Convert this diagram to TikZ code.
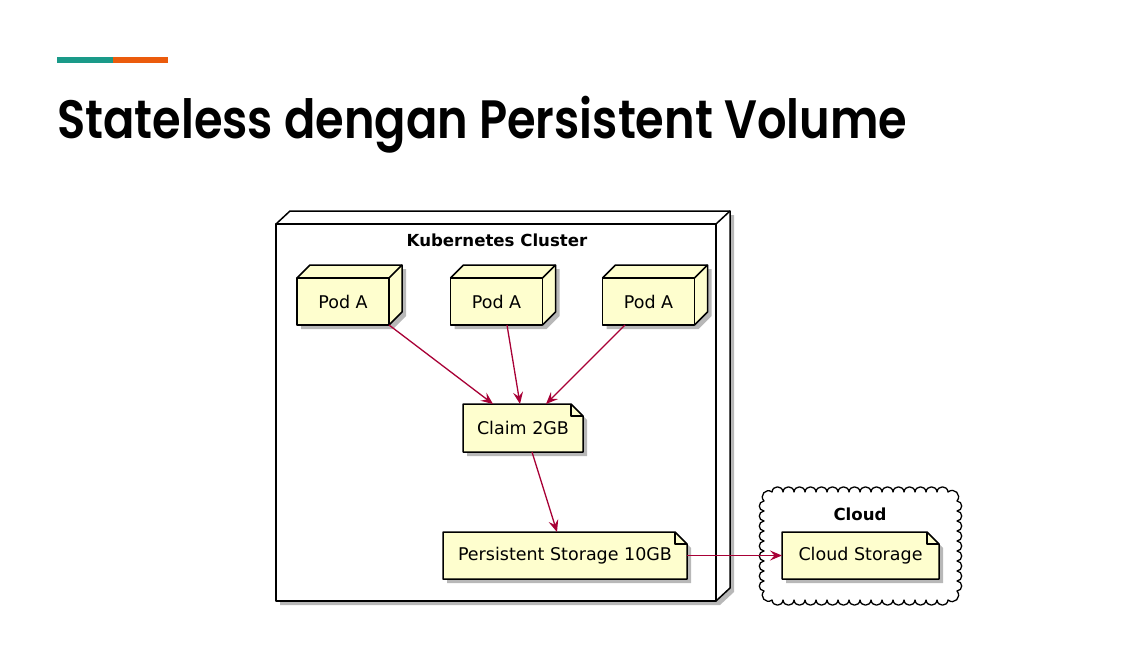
\documentclass[tikz,border=0pt]{standalone}
\usepackage{fontspec}
\newfontfamily\dejavu{DejaVu Sans}
\newfontfamily\titlefont{Poppins}[BoldFont={Poppins SemiBold}]
\usetikzlibrary{arrows.meta,calc,shadows}
\definecolor{notefill}{HTML}{FEFECE}
\definecolor{arrowred}{HTML}{A80036}
\definecolor{barteal}{HTML}{1A9A89}
\definecolor{barorange}{HTML}{EB5B0C}
\definecolor{titlecol}{HTML}{222222}
\newsavebox\titlebox
\newcommand\podat[2]{%
  \begin{scope}[shift={(#2)}]
    \fill[notefill,shadowed] (-46,23.5) -- (-46,-23.5) -- (-33,-36.5) -- (59,-36.5) -- (59,10.5) -- (46,23.5) -- cycle;
  \end{scope}
  \node[podbox] (#1) at (#2) {Pod A};
  \draw[boxline] (#1.north west) -- ++(13,-13) -- ++(92,0) -- ++(0,47) -- (#1.south east);
  \draw[boxline] (#1.north east) -- ++(13,-13);
}
\newcommand\notebox[5]{%
  \begin{scope}[shift={(#2)}]
    \filldraw[boxline,fill=notefill,shadowed] ({-#3/2},{-#4/2}) -- ({#3/2-12},{-#4/2}) -- ({#3/2},{-#4/2+12}) -- ({#3/2},{#4/2}) -- ({-#3/2},{#4/2}) -- cycle;
    \draw[boxline,line width=1.1pt] ({#3/2-12},{-#4/2}) -- ({#3/2-12},{-#4/2+12}) -- ({#3/2},{-#4/2+12});
  \end{scope}
  \node[notetext,minimum width=#3pt,minimum height=#4pt] (#1) at (#2) {#5};
}
\begin{document}
\sbox\titlebox{\titlefont\bfseries\fontsize{54}{60}\selectfont Stateless dengan Persistent Volume}%
\pgfmathsetmacro\tsx{850/\the\wd\titlebox}%
\begin{tikzpicture}[x=1pt,y=-1pt,
  boxline/.style={draw=black,line width=1.5pt,line join=round},
  shadowed/.style={drop shadow={shadow xshift=4pt,shadow yshift=-4pt,fill=black,opacity=0.28}},
  podbox/.style={boxline,fill=notefill,minimum width=92pt,minimum height=47pt,inner sep=0pt,outer sep=0pt,font=\dejavu\fontsize{17.5}{21}\selectfont},
  notetext/.style={inner sep=0pt,outer sep=0pt,font=\dejavu\fontsize{17.5}{21}\selectfont},
  boldlabel/.style={inner sep=0pt,font=\dejavu\bfseries\fontsize{16.6}{20}\selectfont},
  flow/.style={draw=arrowred,line width=1.3pt,-{Stealth[length=12pt,width=10pt,inset=4.5pt]}},
  puff/.style={bend left=85,looseness=1.6},
]
\fill[white] (0,0) rectangle (1145,645);
\useasboundingbox (0,0) rectangle (1145,645);
% header
\fill[barteal] (57,57) rectangle (113,63);
\fill[barorange] (113,57) rectangle (168,63);
\node[anchor=base west,inner sep=0pt,text=titlecol] (title) at (57,138)
  {\scalebox{\tsx}[1]{\usebox\titlebox}};
% cluster
\fill[white,shadowed] (276,224) -- (276,601) -- (716,601) -- (730,588) -- (730,211) -- (290,211) -- cycle;
\node[boxline,fill=white,minimum width=440pt,minimum height=377pt,inner sep=0pt,outer sep=0pt] (cluster) at (496,412.5) {};
\draw[boxline] (cluster.north west) -- ++(14,-13) -- ++(440,0) -- ++(0,377) -- (cluster.south east);
\draw[boxline] (cluster.north east) -- ++(14,-13);
\node[boldlabel] (clusterlabel) at (497,240) {Kubernetes Cluster};
% pods
\podat{p1}{343,301.5}
\podat{p2}{496.5,301.5}
\podat{p3}{648.5,301.5}
% notes
\notebox{claim}{523,428}{120}{48}{Claim 2GB}
\notebox{ps}{565,555.5}{244}{47}{Persistent Storage 10GB}
% cloud
\draw[boxline,line width=1.3pt,fill=white] (772,492)
  foreach \i in {1,...,16}{ to[puff] ++(11,0) }
  to[puff] ++(9,9)
  foreach \i in {1,...,9}{ to[puff] ++(0,10) }
  to[puff] ++(-9,9)
  foreach \i in {1,...,16}{ to[puff] ++(-11,0) }
  to[puff] ++(-8,-9)
  foreach \i in {1,...,9}{ to[puff] ++(0,-10) }
  to[puff] (772,492) -- cycle;
\node[boldlabel] (cloudlabel) at (860,514) {Cloud};
\notebox{cs}{860.5,555.5}{157}{47}{Cloud Storage}
% connectors
\draw[flow] (p1.south east) -- ($(claim.north)+(-30,0)$);
\draw[flow] ($(p2.south)+(10.5,0)$) -- ($(claim.north)+(-3,0)$);
\draw[flow] ($(p3.south)+(-23.5,0)$) -- ($(claim.north)+(23,0)$);
\draw[flow] ($(claim.south)+(9,0)$) -- ($(ps.north)+(-8,0)$);
\draw[flow] (ps.east) -- (cs.west);
\end{tikzpicture}
\end{document}
